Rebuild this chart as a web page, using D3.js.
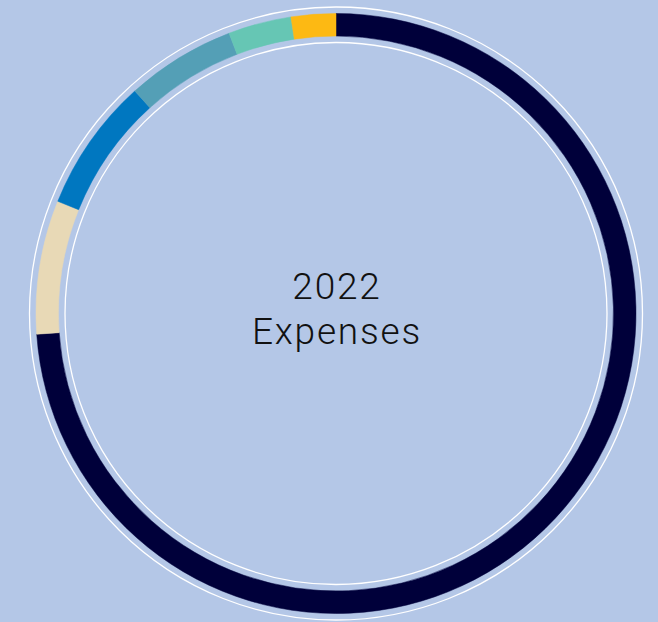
<!DOCTYPE html>
<html>
<head>
<meta charset="utf-8">
<script src="https://cdn.jsdelivr.net/npm/d3@7"></script>
<style>
  html, body { margin: 0; padding: 0; background: #b4c7e7; }
  svg { display: block; }
</style>
</head>
<body>
<div id="chart"></div>
<script>
// expense shares (percent), clockwise from 12 o'clock
const categories = ["Programs", "Operations", "Outreach", "Research", "Fundraising", "Other"];
const shares = [73.9, 7.2, 7.2, 5.9, 3.4, 2.4];
const colors = ["#00003a", "#e8d9b6", "#0077c0", "#549fb6", "#66c6b4", "#fdb913"];
const titleLines = ["2022", "Expenses"];

const width = 658;
const height = 622;
const cx = 336;
const cy = 313.5;

const svg = d3.select("#chart")
    .append("svg")
    .attr("width", width)
    .attr("height", height);

const g = svg.append("g")
    .attr("transform", `translate(${cx},${cy})`);

// thin white guide circles
[306.5, 271].forEach(r => {
    g.append("circle")
        .attr("r", r)
        .attr("fill", "none")
        .attr("stroke", "#ffffff")
        .attr("stroke-width", 1.3);
});

const data = categories.map((c, i) => ({ name: c, value: shares[i], color: colors[i] }));

const pie = d3.pie()
    .sort(null)
    .value(d => d.value);

const arc = d3.arc()
    .innerRadius(277.5)
    .outerRadius(300);

g.selectAll("path.slice")
    .data(pie(data))
    .join("path")
    .attr("class", "slice")
    .attr("d", arc)
    .attr("fill", d => d.data.color)
    .attr("stroke", d => d.data.color)
    .attr("stroke-width", 0.5);

const label = g.append("text")
    .attr("text-anchor", "middle")
    .attr("font-family", "Roboto, 'Liberation Sans', sans-serif")
    .attr("font-weight", 300)
    .attr("font-size", 37)
    .attr("letter-spacing", 1.8)
    .attr("fill", "#111");

label.selectAll("tspan")
    .data(titleLines)
    .join("tspan")
    .attr("x", 1)
    .attr("y", (d, i) => -15 + i * 45)
    .text(d => d);
</script>
</body>
</html>
